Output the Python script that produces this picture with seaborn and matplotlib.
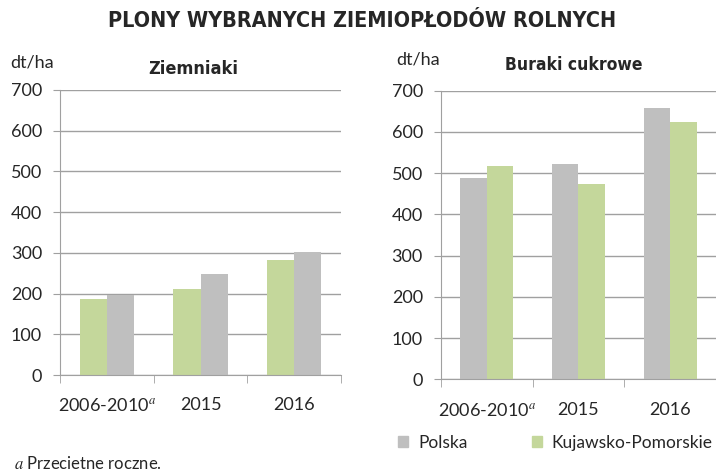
import pandas as pd
import numpy as np
import matplotlib
matplotlib.use("Agg")
import matplotlib.pyplot as plt
import seaborn as sns

# DATA
years = ["2006-2010$^{a}$", "2015", "2016"]
series = ["Polska", "Kujawsko-Pomorskie"]
ziemniaki_polska = [196, 248, 302]
ziemniaki_kp = [187, 211, 283]
buraki_polska = [488, 522, 658]
buraki_kp = [517, 473, 624]

colors = {"Polska": "#BFBFBF", "Kujawsko-Pomorskie": "#C4D79B"}

sns.set_style("white")
plt.rcParams["font.family"] = ["Lato", "DejaVu Sans"]
plt.rcParams["mathtext.fontset"] = "stix"

GRID = "#A0A0A0"
FS = 13


def make_df(pl, kp):
    return pd.DataFrame({
        "rok": years * 2,
        "seria": ["Polska"] * 3 + ["Kujawsko-Pomorskie"] * 3,
        "plon": pl + kp,
    })


def style_axes(ax):
    ax.set_ylim(0, 700)
    ax.set_xlim(-0.5, 2.5)
    ax.set_yticks(range(0, 701, 100))
    ax.yaxis.grid(True, color=GRID, linewidth=1)
    ax.set_axisbelow(True)
    for s in ["top", "right"]:
        ax.spines[s].set_visible(False)
    ax.spines["left"].set_color(GRID)
    ax.spines["bottom"].set_color(GRID)
    ax.set_xlabel("")
    ax.set_ylabel("")
    ax.tick_params(axis="y", length=5, color=GRID, pad=8, labelsize=FS, direction="out", left=True)
    ax.tick_params(axis="x", which="major", length=0, pad=16, labelsize=FS)
    ax.set_xticks([-0.5, 0.5, 1.5, 2.5], minor=True)
    ax.tick_params(axis="x", which="minor", length=6, color=GRID, direction="out", bottom=True)
    leg = ax.get_legend()
    if leg is not None:
        leg.remove()


fig = plt.figure(figsize=(7.16, 4.72), dpi=100)
ax1 = fig.add_axes([0.0838, 0.2055, 0.3925, 0.604])
ax2 = fig.add_axes([0.6159, 0.1964, 0.384, 0.6114])

sns.barplot(data=make_df(ziemniaki_polska, ziemniaki_kp), x="rok", y="plon", hue="seria",
            hue_order=["Kujawsko-Pomorskie", "Polska"], palette=colors, width=0.58,
            saturation=1, linewidth=0, ax=ax1)
sns.barplot(data=make_df(buraki_polska, buraki_kp), x="rok", y="plon", hue="seria",
            hue_order=["Polska", "Kujawsko-Pomorskie"], palette=colors, width=0.58,
            saturation=1, linewidth=0, ax=ax2)
style_axes(ax1)
style_axes(ax2)

# titles
fig.text(0.505, 0.955, "PLONY WYBRANYCH ZIEMIOPŁODÓW ROLNYCH", ha="center", va="center",
         fontsize=15.5, fontweight="heavy", family="DejaVu Sans", fontstretch="condensed",
         color="#262626")
fig.text(0.270, 0.853, "Ziemniaki", ha="center", va="center", fontsize=13,
         fontweight="bold", family="DejaVu Sans", fontstretch="condensed", color="#262626")
fig.text(0.802, 0.862, "Buraki cukrowe", ha="center", va="center", fontsize=12.5,
         fontweight="bold", family="DejaVu Sans", fontstretch="condensed", color="#262626")
fig.text(0.014, 0.868, "dt/ha", ha="left", va="center", fontsize=FS)
fig.text(0.553, 0.873, "dt/ha", ha="left", va="center", fontsize=FS)

# legend
handles = [plt.Rectangle((0, 0), 1, 1, color=colors[s]) for s in series]
fig.legend(handles, series, loc="center left", bbox_to_anchor=(0.534, 0.062), ncol=2,
           frameon=False, fontsize=12.5, handlelength=0.6, handleheight=0.6,
           columnspacing=3.7, handletextpad=0.55)

fig.text(0.02, 0.018, "$a$ Przecietne roczne.", ha="left", va="center", fontsize=12)

fig.savefig("out.png", dpi=100)
